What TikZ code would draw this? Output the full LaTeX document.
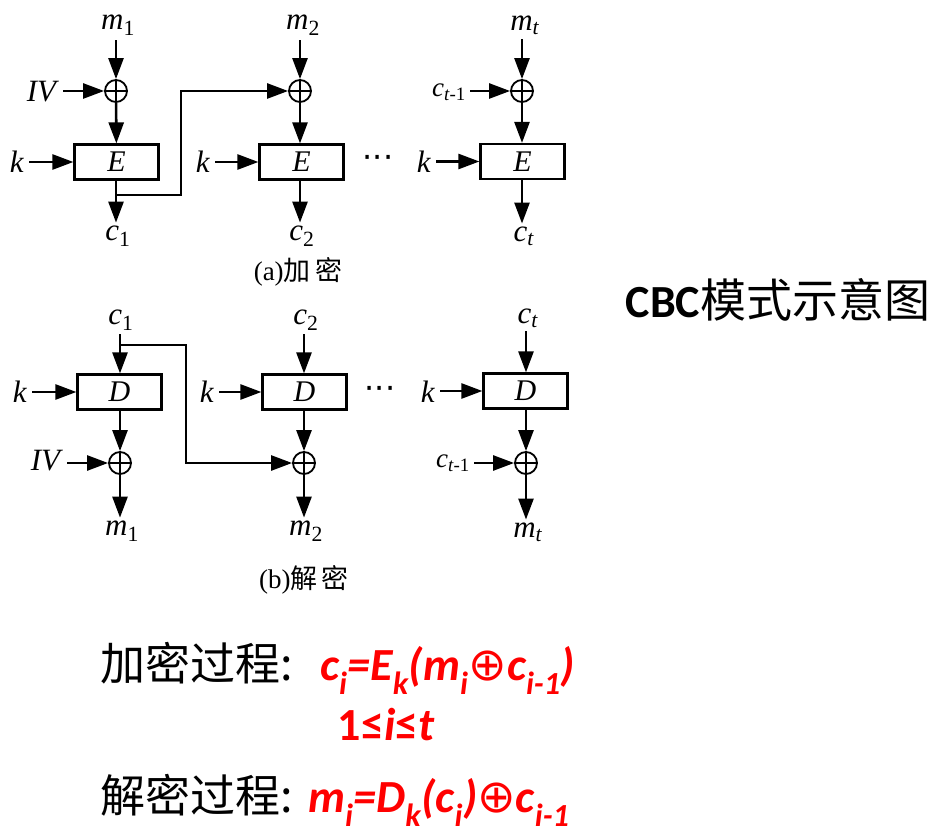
\documentclass[tikz,border=0pt]{standalone}
\usepackage{fontspec}
\setmainfont{Liberation Serif}
\newfontfamily\cjk{Noto Sans CJK SC}
\newfontfamily\carl{Carlito}
\newfontfamily\djv{DejaVu Sans}
\usetikzlibrary{arrows.meta}
\newcommand\vsub[2]{\textit{#1}\textsubscript{#2}}
\definecolor{fred}{RGB}{255,0,0}
\tikzset{
 ln/.style={line width=2.6pt},
 arr/.style={ln, -{Triangle[length=21pt,width=15pt]}},
 blk/.style={draw, line width=2.2pt, minimum width=84pt, minimum height=35pt, inner sep=0pt, font=\fontsize{30}{30}\selectfont\itshape},
 xor/.style={draw, circle, line width=1.8pt, minimum size=22pt, inner sep=0pt,
   path picture={\draw[line width=1.8pt] (path picture bounding box.north) -- (path picture bounding box.south) (path picture bounding box.west) -- (path picture bounding box.east);}},
 lbl/.style={inner sep=0pt, font=\fontsize{31}{31}\selectfont},
 dotlbl/.style={inner sep=0pt, font=\djv\fontsize{32}{32}\selectfont},
 capt/.style={inner sep=0pt, font=\fontsize{27}{27}\selectfont},
 cjkline/.style={anchor=base west, inner sep=0pt, font=\cjk\fontsize{45}{45}\selectfont},
 redf/.style={anchor=base west, inner sep=0pt, text=fred, font=\carl\bfseries\itshape\fontsize{46}{46}\selectfont},
}
\begin{document}
\begin{tikzpicture}[x=1pt,y=-1pt]
\path[use as bounding box, fill=white] (0,0) rectangle (946,837);
% ---------------- encryption ----------------
\node[lbl] (m1) at (118,25) {\vsub{m}{1}};
\node[xor] (x1) at (116,91) {};
\node[blk] (e1) at (116.5,162) {E};
\node[lbl] (iv1) at (43,92) {\textit{IV}};
\node[lbl] (k1) at (17,162) {\textit{k}};
\node[lbl] (c1) at (118,236) {\vsub{c}{1}};
\draw[arr] (m1.south -| x1) ++(0,5) -- (x1.north);
\draw[arr, shorten <=4pt] (iv1.east |- x1.west) -- (x1.west);
\draw[arr] (x1) -- (e1);
\draw[arr, shorten <=5pt] (k1.east |- e1.west) -- (e1.west);
\draw[arr, shorten >=3pt] (e1.south -| x1) -- (x1 |- c1.north);
\coordinate (f1) at (116,195);

\node[lbl] (m2) at (303,25) {\vsub{m}{2}};
\node[xor] (x2) at (300,91) {};
\node[blk] (e2) at (301.5,162) {E};
\node[lbl] (k2) at (203,162) {\textit{k}};
\node[lbl] (c2) at (302,236) {\vsub{c}{2}};
\draw[arr] (m2.south -| x2) ++(0,5) -- (x2.north);
\draw[arr] (x2) -- (e2.north -| x2);
\draw[arr, shorten <=5pt] (k2.east |- e2.west) -- (e2.west);
\draw[arr, shorten >=3pt] (e2.south -| x2) -- (x2 |- c2.north);
\draw[arr] (f1) -- ++(65,0) |- (x2.west);

\node[dotlbl] (dotsa) at (378,162) {···};

\node[lbl] (m3) at (525,25) {\vsub{m}{\textit{t}}};
\node[xor] (x3) at (522,91) {};
\node[blk] (e3) at (522.5,161.5) {E};
\node[lbl] (k3) at (424,162) {\textit{k}};
\node[lbl] (c3) at (524,236) {\vsub{c}{\textit{t}}};
\node[lbl, font=\fontsize{27}{27}\selectfont] (ct1) at (449,92) {\vsub{c}{\textit{t}-1}};
\draw[arr] (m3.south -| x3) ++(0,5) -- (x3.north);
\draw[arr, shorten <=4pt] (ct1.east |- x3.west) -- (x3.west);
\draw[arr] (x3) -- (e3.north -| x3);
\draw[arr, shorten <=5pt] (k3.east |- e3.west) -- (e3.west);
\draw[arr, shorten >=3pt] (e3.south -| x3) -- (x3 |- c3.north);

\node[capt] (capa) at (298,272) {(a){\cjk 加\,密}};

% ---------------- decryption ----------------
\node[lbl] (dc1) at (121,320) {\vsub{c}{1}};
\node[blk] (d1) at (119.5,392) {D};
\node[xor] (y1) at (120,463) {};
\node[lbl] (iv2) at (47,461) {\textit{IV}};
\node[lbl] (k4) at (20,392) {\textit{k}};
\node[lbl] (dm1) at (122,531) {\vsub{m}{1}};
\draw[arr] (dc1.south -| y1) ++(0,4) -- (y1 |- d1.north);
\draw[arr, shorten <=5pt] (k4.east |- d1.west) -- (d1.west);
\draw[arr] (d1.south -| y1) -- (y1.north);
\draw[arr, shorten <=4pt] (iv2.east |- y1.west) -- (y1.west);
\draw[arr, shorten >=3pt] (y1.south) -- (y1 |- dm1.north);
\coordinate (f2) at (120,345);

\node[lbl] (dc2) at (306,320) {\vsub{c}{2}};
\node[blk] (d2) at (304.5,392) {D};
\node[xor] (y2) at (304,463) {};
\node[lbl] (k5) at (207,392) {\textit{k}};
\node[lbl] (dm2) at (306,531) {\vsub{m}{2}};
\draw[arr] (dc2.south -| y2) ++(0,4) -- (y2 |- d2.north);
\draw[arr, shorten <=5pt] (k5.east |- d2.west) -- (d2.west);
\draw[arr] (d2.south -| y2) -- (y2.north);
\draw[arr, shorten >=3pt] (y2.south) -- (y2 |- dm2.north);
\draw[arr] (f2) -- ++(66,0) |- (y2.west);

\node[dotlbl] (dotsb) at (380,393) {···};

\node[lbl] (dc3) at (528,318) {\vsub{c}{\textit{t}}};
\node[blk] (d3) at (525.5,391) {D};
\node[xor] (y3) at (526,463) {};
\node[lbl] (k6) at (428,392) {\textit{k}};
\node[lbl, font=\fontsize{27}{27}\selectfont] (dct1) at (453,463) {\vsub{c}{\textit{t}-1}};
\node[lbl] (dm3) at (528,532) {\vsub{m}{\textit{t}}};
\draw[arr] (dc3.south -| y3) ++(0,4) -- (y3 |- d3.north);
\draw[arr, shorten <=5pt] (k6.east |- d3.west) -- (d3.west);
\draw[arr] (d3.south -| y3) -- (y3.north);
\draw[arr, shorten <=4pt] (dct1.east |- y3.west) -- (y3.west);
\draw[arr, shorten >=3pt] (y3.south) -- (y3 |- dm3.north);

\node[capt] (capb) at (304,580) {(b){\cjk 解\,密}};

% ---------------- title and formulas ----------------
\node[inner sep=0pt] (title) at (778,300) {\fontsize{46}{46}\selectfont{\carl\bfseries CBC}{\cjk 模式示意图}};

\node[cjkline] (enc) at (100,680) {加密过程:};
\node[redf] (encf) at (320,680) {c\textsubscript{i}=E\textsubscript{k}(m\textsubscript{i}{\djv\upshape\mdseries ⊕}c\textsubscript{i-1})};
\node[redf, anchor=base] (rng) at (386,740) {{\upshape 1≤}i{\upshape ≤}t};
\node[cjkline] (dec) at (100,812) {解密过程:};
\node[redf] (decf) at (308,812) {m\textsubscript{i}=D\textsubscript{k}(c\textsubscript{i}){\djv\upshape\mdseries ⊕}c\textsubscript{i-1}};
\end{tikzpicture}
\end{document}
